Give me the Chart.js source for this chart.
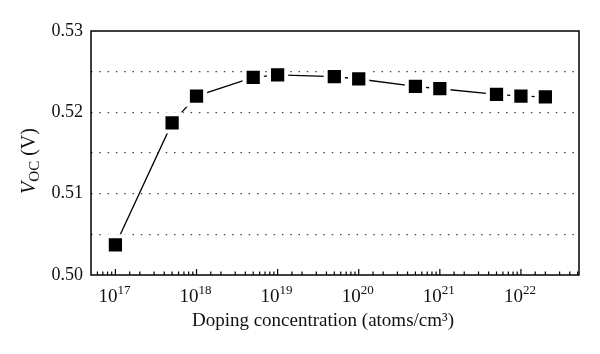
<!DOCTYPE html>
<html>
<head>
    <meta charset="UTF-8">
    <title>Voc vs doping</title>
    <style>
        body { margin: 0; background: #fff; }
    </style>
</head>
<body>
    <canvas id="chart" width="600" height="354"></canvas>
    <script src="https://cdn.jsdelivr.net/npm/chart.js"></script>
    <script>
        // data
        const doping = [1e17, 5e17, 1e18, 5e18, 1e19, 5e19, 1e20, 5e20, 1e21, 5e21, 1e22, 2e22];
        const voc = [0.5037, 0.5187, 0.5220, 0.5243, 0.5246, 0.5244, 0.5241, 0.5232, 0.5229, 0.5222, 0.5220, 0.5219];
        const yLabels = ['0.50', '0.51', '0.52', '0.53'];
        const xTitle = 'Doping concentration (atoms/cm³)';

        const SERIF = '"Liberation Serif", "DejaVu Serif", serif';

        const isPow10 = (v) => {
            const e = Math.log10(v);
            return Math.abs(e - Math.round(e)) < 1e-6;
        };

        // box, inward x ticks, 10^n labels and the two axis titles
        const framePlugin = {
            id: 'frame',
            afterDraw(chart) {
                const ctx = chart.ctx;
                const { left, right, top, bottom } = chart.chartArea;
                const xs = chart.scales.x;
                ctx.save();
                ctx.strokeStyle = '#000';
                ctx.lineWidth = 1.5;
                ctx.strokeRect(left, top, right - left, bottom - top);

                ctx.lineWidth = 1.2;
                ctx.fillStyle = '#111';
                ctx.textBaseline = 'alphabetic';
                xs.ticks.forEach((t) => {
                    const px = xs.getPixelForValue(t.value);
                    if (px <= left + 1 || px >= right - 1) return;
                    const major = isPow10(t.value);
                    ctx.beginPath();
                    ctx.moveTo(px, bottom);
                    ctx.lineTo(px, bottom - (major ? 6 : 3.5));
                    ctx.stroke();
                    if (!major) return;
                    // label 10 with raised exponent
                    const exp = String(Math.round(Math.log10(t.value)));
                    ctx.font = '19px ' + SERIF;
                    const wb = ctx.measureText('10').width;
                    ctx.font = '13px ' + SERIF;
                    const we = ctx.measureText(exp).width;
                    const x0 = px - (wb + we) / 2 - 1;
                    ctx.textAlign = 'left';
                    ctx.font = '19px ' + SERIF;
                    ctx.fillText('10', x0, 302);
                    ctx.font = '13px ' + SERIF;
                    ctx.fillText(exp, x0 + wb, 294);
                });

                // x title
                ctx.font = '19px ' + SERIF;
                ctx.textAlign = 'center';
                ctx.fillText(xTitle, 323, 326);

                // y title: V_OC (V)
                ctx.translate(35, 161);
                ctx.rotate(-Math.PI / 2);
                const fV = 'italic 20px ' + SERIF;
                const fSub = '15px ' + SERIF;
                const fRest = '20px ' + SERIF;
                ctx.font = fV; const wV = ctx.measureText('V').width;
                ctx.font = fSub; const wS = ctx.measureText('OC').width;
                ctx.font = fRest; const wR = ctx.measureText(' (V)').width;
                let x0 = -(wV + wS + wR) / 2;
                ctx.textAlign = 'left';
                ctx.font = fV; ctx.fillText('V', x0, 0); x0 += wV;
                ctx.font = fSub; ctx.fillText('OC', x0, 4); x0 += wS;
                ctx.font = fRest; ctx.fillText(' (V)', x0, 0);
                ctx.restore();
            }
        };

        new Chart(document.getElementById('chart'), {
            type: 'line',
            data: {
                labels: doping,
                datasets: [{
                    label: 'Voc',
                    data: doping.map((d, i) => ({ x: d, y: voc[i] })),
                    borderColor: '#000',
                    borderWidth: 1.3,
                    tension: 0,
                    pointStyle: 'rect',
                    pointRadius: 12.2,
                    pointBackgroundColor: '#000',
                    pointBorderColor: '#fff',
                    pointBorderWidth: 4,
                }]
            },
            options: {
                responsive: false,
                animation: false,
                layout: { padding: { top: 31, right: 21, left: 0, bottom: 0 } },
                plugins: {
                    legend: { display: false },
                    tooltip: { enabled: false },
                },
                scales: {
                    x: {
                        type: 'logarithmic',
                        min: 5e16,
                        max: 5.2e22,
                        afterFit: (s) => { s.height = 79; },
                        border: { display: false },
                        grid: { display: false, drawTicks: false },
                        ticks: { display: false, autoSkip: false }
                    },
                    y: {
                        min: 0.50,
                        max: 0.53,
                        afterFit: (s) => { s.width = 91; },
                        border: { display: false, dash: [1.5, 6.8] },
                        grid: {
                            drawTicks: false,
                            color: (c) => {
                                const v = Math.round(c.tick.value * 1000);
                                return (v > 500 && v < 530) ? '#444' : 'rgba(0,0,0,0)';
                            },
                            lineWidth: 1.3,
                        },
                        ticks: {
                            stepSize: 0.005,
                            padding: 8,
                            color: '#111',
                            font: { family: SERIF, size: 18 },
                            callback: (v) => {
                                const k = Math.round(v * 1000);
                                return k % 10 === 0 ? yLabels[(k - 500) / 10] : '';
                            }
                        }
                    }
                }
            },
            plugins: [framePlugin]
        });
    </script>
</body>
</html>
